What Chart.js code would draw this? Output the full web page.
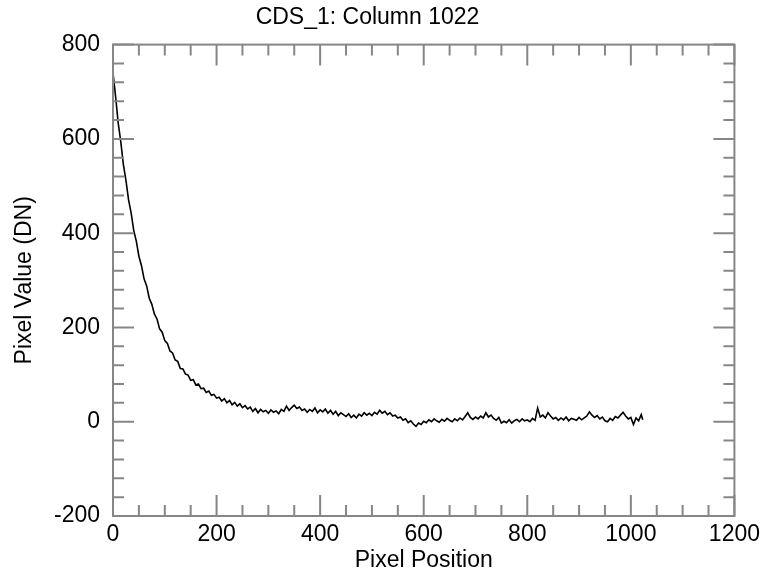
<!DOCTYPE html>
<html>
<head>
<meta charset="utf-8">
<script src="https://cdn.jsdelivr.net/npm/chart.js@4.4.0/dist/chart.umd.min.js"></script>
<style>
    html, body { margin: 0; padding: 0; background: #fff; }
    #wrap { width: 765px; height: 574px; }
</style>
</head>
<body>
<div id="wrap"><canvas id="myChart"></canvas></div>
<script>
var pixelPos = [
    0, 5, 10, 15, 20, 25, 30, 35, 40, 45, 50, 55, 60, 65, 70, 75, 80, 85, 90, 95,
    100, 105, 110, 115, 120, 125, 130, 135, 140, 145, 150, 155, 160, 165, 170, 175, 180, 185, 190, 195,
    200, 205, 210, 215, 220, 225, 230, 235, 240, 245, 250, 255, 260, 265, 270, 275, 280, 285, 290, 295,
    300, 305, 310, 315, 320, 325, 330, 335, 340, 345, 350, 355, 360, 365, 370, 375, 380, 385, 390, 395,
    400, 405, 410, 415, 420, 425, 430, 435, 440, 445, 450, 455, 460, 465, 470, 475, 480, 485, 490, 495,
    500, 505, 510, 515, 520, 525, 530, 535, 540, 545, 550, 555, 560, 565, 570, 575, 580, 585, 590, 595,
    600, 605, 610, 615, 620, 625, 630, 635, 640, 645, 650, 655, 660, 665, 670, 675, 680, 685, 690, 695,
    700, 705, 710, 715, 720, 725, 730, 735, 740, 745, 750, 755, 760, 765, 770, 775, 780, 785, 790, 795,
    800, 805, 810, 815, 820, 825, 830, 835, 840, 845, 850, 855, 860, 865, 870, 875, 880, 885, 890, 895,
    900, 905, 910, 915, 920, 925, 930, 935, 940, 945, 950, 955, 960, 965, 970, 975, 980, 985, 990, 995,
    1000, 1005, 1010, 1015, 1020, 1023
];
var pixelValue = [
    740, 690, 634, 594, 546, 512, 471, 443, 406, 383, 351, 331, 303, 288, 262, 249, 228, 218, 197, 190,
    172, 166, 150, 146, 131, 128, 113, 112, 101, 99, 88, 89, 78, 80, 70, 71, 62, 65, 56, 58,
    50, 52, 44, 49, 40, 45, 36, 41, 33, 38, 30, 34, 27, 31, 22, 28, 19, 26, 21, 24,
    18, 25, 20, 23, 17, 26, 22, 33, 24, 30, 35, 28, 31, 24, 27, 20, 26, 22, 29, 19,
    25, 21, 27, 18, 24, 16, 22, 13, 19, 15, 11, 17, 9, 14, 8, 16, 12, 19, 14, 18,
    13, 20, 16, 24, 18, 22, 15, 19, 12, 14, 8, 10, 3, 6, -2, 2, -5, -10, -3, -6,
    1, -2, 4, 0, 6, 2, -1, 5, 1, 7, 3, 0, 6, 2, 8, 4, 11, 19, 9, 5,
    10, 6, 12, 8, 19, 10, 14, 7, 3, 9, -3, 1, -2, 4, -3, 2, 5, 0, 6, 2,
    4, 0, 7, 3, 29, 10, 14, 8, 19, 12, 6, 9, 3, 8, 4, 10, 2, 7, 5, 3,
    9, 4, 8, 12, 21, 14, 9, 13, 6, 10, 2, 0, 7, 3, 11, 8, 14, 20, 12, 6,
    9, -6, 8, 2, 15, 4
];

var xMin = 0, xMax = 1200, xMajor = 200, xMinor = 50;
var yMin = -200, yMax = 800, yMajor = 200, yMinor = 40;

var chartTitle = 'CDS_1: Column 1022';
var xTitle = 'Pixel Position';
var yTitle = 'Pixel Value (DN)';

var fontFamily = '"Liberation Sans", Arial, Helvetica, sans-serif';

// IDL style box with inward ticks on all four sides
var frameTicks = {
    id: 'frameTicks',
    afterDraw: function (chart) {
        var ctx = chart.ctx;
        var xs = chart.scales.x;
        var ys = chart.scales.y;
        var a = chart.chartArea;
        var majorLen = 21, minorLen = 11;

        ctx.save();
        ctx.strokeStyle = '#868686';
        ctx.lineWidth = 2;
        ctx.beginPath();
        for (var v = xMin; v <= xMax; v += xMinor) {
            var len = (v % xMajor === 0) ? majorLen : minorLen;
            var px = xs.getPixelForValue(v);
            ctx.moveTo(px, a.bottom);
            ctx.lineTo(px, a.bottom - len);
            ctx.moveTo(px, a.top);
            ctx.lineTo(px, a.top + len);
        }
        for (var w = yMin; w <= yMax; w += yMinor) {
            var len2 = ((w - yMin) % yMajor === 0) ? majorLen : minorLen;
            var py = ys.getPixelForValue(w);
            ctx.moveTo(a.left, py);
            ctx.lineTo(a.left + len2, py);
            ctx.moveTo(a.right, py);
            ctx.lineTo(a.right - len2, py);
        }
        ctx.stroke();
        ctx.strokeRect(a.left, a.top, a.right - a.left, a.bottom - a.top);
        ctx.restore();
    }
};

function plainTick(value) {
    return String(value);
}

function renderChart() {
    var pts = [];
    for (var i = 0; i < pixelPos.length; i++) {
        pts.push({ x: pixelPos[i], y: pixelValue[i] });
    }

    var ctx = document.getElementById('myChart');
    var myChart = new Chart(ctx, {
        type: 'line',
        plugins: [frameTicks],
        data: {
            datasets: [{
                data: pts,
                borderColor: '#000000',
                borderWidth: 1.6,
                pointRadius: 0,
                tension: 0,
                fill: false
            }]
        },
        options: {
            responsive: true,
            maintainAspectRatio: false,
            animation: false,
            layout: { padding: { left: 0, right: 30, top: 0, bottom: 0 } },
            plugins: {
                legend: { display: false },
                tooltip: { enabled: false },
                title: {
                    display: true,
                    text: chartTitle,
                    color: '#000',
                    font: { family: fontFamily, size: 23, weight: 'normal' },
                    padding: { top: 4, bottom: 13 }
                }
            },
            scales: {
                x: {
                    type: 'linear',
                    min: xMin,
                    max: xMax,
                    grid: { display: false, drawTicks: false },
                    border: { display: false },
                    ticks: {
                        stepSize: xMajor,
                        color: '#000',
                        padding: 5,
                        maxRotation: 0,
                        callback: plainTick,
                        font: { family: fontFamily, size: 23 }
                    },
                    title: {
                        display: true,
                        text: xTitle,
                        color: '#000',
                        font: { family: fontFamily, size: 23 },
                        padding: { top: 0, bottom: 0 }
                    },
                    afterFit: function (scale) { scale.height = 58; }
                },
                y: {
                    type: 'linear',
                    min: yMin,
                    max: yMax,
                    grid: { display: false, drawTicks: false },
                    border: { display: false },
                    ticks: {
                        stepSize: yMajor,
                        color: '#000',
                        padding: 13,
                        callback: plainTick,
                        font: { family: fontFamily, size: 23 }
                    },
                    title: {
                        display: true,
                        text: yTitle,
                        color: '#000',
                        font: { family: fontFamily, size: 23 },
                        padding: { top: 11, bottom: 0 }
                    },
                    afterFit: function (scale) { scale.width = 113; }
                }
            }
        }
    });
}

renderChart();
</script>
</body>
</html>
